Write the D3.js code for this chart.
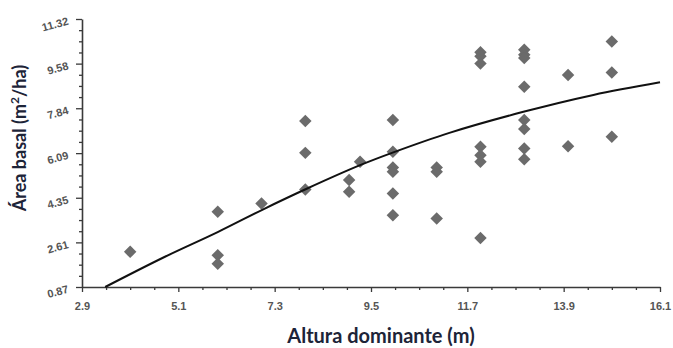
<!DOCTYPE html>
<html>
<head>
<meta charset="utf-8">
<script src="https://cdn.jsdelivr.net/npm/d3@7"></script>
<style>
  body { margin: 0; background: #fff; }
  svg { display: block; }
</style>
</head>
<body>
<div id="chart"></div>
<script>
// observed points: altura dominante (m), area basal (m2/ha)
const alturaObs = [4, 6, 6, 6, 7, 8, 8, 8, 9, 9, 9.25,
    10, 10, 10, 10, 10, 10, 11, 11, 11,
    12, 12, 12, 12, 12, 12, 12,
    13, 13, 13, 13, 13, 13, 13, 13, 14, 14, 15, 15, 15];
const areaObs = [2.24, 3.80, 2.11, 1.78, 4.13, 7.34, 6.10, 4.67, 5.04, 4.58, 5.75,
    7.38, 6.14, 5.53, 5.36, 4.52, 3.67, 5.53, 5.36, 3.54,
    10.02, 9.87, 9.58, 6.34, 6.01, 5.75, 2.78,
    10.12, 9.93, 8.68, 7.38, 7.03, 6.27, 5.85, 9.80, 9.14, 6.36, 10.44, 9.23, 6.73];

// fitted curve
const alturaFit = [3.43, 4.76, 6.01, 7.04, 8.03, 9.25, 10.01, 11.29, 12.98, 14.58, 16.1];
const areaFit = [0.87, 2.02, 3.02, 3.90, 4.70, 5.62, 6.12, 6.88, 7.70, 8.36, 8.85];

const xTicks = [2.9, 5.1, 7.3, 9.5, 11.7, 13.9, 16.1];
const yTicks = [0.87, 2.61, 4.35, 6.09, 7.84, 9.58, 11.32];

const W = 673, H = 348;
const margin = { top: 19, right: 13, bottom: 61, left: 82 };
const width = W - margin.left - margin.right;
const height = H - margin.top - margin.bottom;

const x = d3.scaleLinear().domain([2.9, 16.1]).range([0, width]);
const y = d3.scaleLinear().domain([0.87, 11.32]).range([height, 0]);

const svg = d3.select("#chart").append("svg")
    .attr("width", W)
    .attr("height", H);

const g = svg.append("g")
    .attr("transform", `translate(${margin.left},${margin.top})`);

// minor ticks: 3 between each pair of majors
function minors(ticks) {
    const out = [];
    for (let i = 0; i < ticks.length - 1; i++) {
        const step = (ticks[i + 1] - ticks[i]) / 4;
        for (let k = 1; k < 4; k++) out.push(ticks[i] + k * step);
    }
    return out;
}

const axisColor = "#3a3a3a";

// x axis
g.append("g")
    .attr("transform", `translate(0,${height})`)
    .call(d3.axisBottom(x).tickValues(minors(xTicks)).tickSize(3).tickFormat(""))
    .call(a => a.select(".domain").remove());

const xAxis = g.append("g")
    .attr("transform", `translate(0,${height})`)
    .call(d3.axisBottom(x).tickValues(xTicks).tickSize(5).tickSizeOuter(0).tickPadding(10)
        .tickFormat(d3.format(".1f")));
xAxis.select(".domain").attr("stroke-width", 1.6);

// y axis
g.append("g")
    .call(d3.axisLeft(y).tickValues(minors(yTicks)).tickSize(3).tickFormat(""))
    .call(a => a.select(".domain").remove());

const yAxis = g.append("g")
    .call(d3.axisLeft(y).tickValues(yTicks).tickSize(6).tickSizeOuter(0).tickPadding(8)
        .tickFormat(d3.format(".2f")));
yAxis.select(".domain").attr("stroke-width", 1.6);

svg.selectAll(".tick line, .domain").attr("stroke", axisColor);
svg.selectAll(".tick line").attr("stroke-width", 1.3);
svg.selectAll(".tick text")
    .attr("fill", "#555")
    .style("font-family", "Arial, 'Liberation Sans', sans-serif")
    .style("font-size", "11px")
    .style("font-weight", "bold");
yAxis.selectAll(".tick text")
    .attr("transform", "rotate(-15,-8,0)");

// points
g.selectAll(".pt")
    .data(alturaObs.map((a, i) => ({ a: a, b: areaObs[i] })))
    .enter()
    .append("path")
    .attr("class", "pt")
    .attr("d", d3.symbol(d3.symbolSquare, 78))
    .attr("transform", d => `translate(${x(d.a)},${y(d.b)}) rotate(45)`)
    .attr("fill", "#6b6b6b");

// fitted line
const line = d3.line()
    .x(d => x(d[0]))
    .y(d => y(d[1]))
    .curve(d3.curveCatmullRom);

g.append("path")
    .datum(alturaFit.map((a, i) => [a, areaFit[i]]))
    .attr("d", line)
    .attr("fill", "none")
    .attr("stroke", "#111")
    .attr("stroke-width", 2);

// axis titles
svg.append("text")
    .attr("x", 381)
    .attr("y", 343)
    .attr("text-anchor", "middle")
    .style("font-family", "Lato, 'Open Sans', sans-serif")
    .style("font-weight", "bold")
    .style("font-size", "20px")
    .attr("fill", "#1d2438")
    .text("Altura dominante (m)");

const yt = svg.append("text")
    .attr("transform", "translate(26,138) rotate(-90)")
    .attr("text-anchor", "middle")
    .style("font-family", "Lato, 'Open Sans', sans-serif")
    .style("font-weight", "bold")
    .style("font-size", "18px")
    .attr("fill", "#1d2438");
yt.append("tspan").text("Área basal (m");
yt.append("tspan").attr("dy", -7).style("font-size", "12px").text("2");
yt.append("tspan").attr("dy", 7).text("/ha)");
</script>
</body>
</html>
